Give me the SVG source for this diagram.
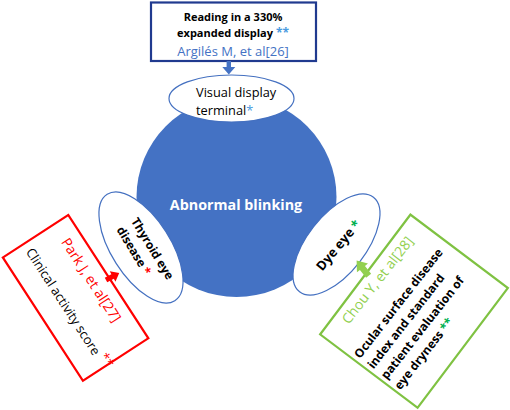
<svg xmlns="http://www.w3.org/2000/svg" width="510" height="410" viewBox="0 0 510 410">
<style>
.t{font-family:"Open Sans","Noto Sans","Liberation Sans",sans-serif;fill:#000}
.b{font-weight:bold}
.ell{fill:#fff;stroke:#4470C0;stroke-width:1.2}
.lb{fill:#4A9BE0}
.rd{fill:#FF0000}
.gr{fill:#92D050}
.dg{fill:#00B050}
</style>
<rect width="510" height="410" fill="#fff"/>

<g id="abnormal-blinking">
<circle cx="236.5" cy="197" r="100" fill="#4472C4"/>
<text class="t b" x="236" y="210" font-size="14.3" text-anchor="middle" style="fill:#fff">Abnormal blinking</text>
</g>

<g id="reading-box">
<rect x="151" y="2.5" width="165" height="58.5" fill="#fff" stroke="#203A8F" stroke-width="2.2"/>
<text class="t b" x="233" y="20.5" font-size="11" text-anchor="middle">Reading in a 330%</text>
<text class="t b" x="233" y="37" font-size="11" text-anchor="middle">expanded display <tspan class="lb" font-size="12">**</tspan></text>
<text class="t" x="233" y="55.5" font-size="13" text-anchor="middle" style="fill:#4472C4">Argilés M, et al[26]</text>
</g>

<g id="visual-display-terminal">
<ellipse class="ell" cx="231.5" cy="98.5" rx="62.5" ry="23.5"/>
<text class="t" x="196" y="96.5" font-size="12.8">Visual display</text>
<text class="t" x="196" y="114.5" font-size="12.8">terminal<tspan class="lb">*</tspan></text>
</g>

<g id="thyroid-eye-disease" transform="translate(141,247.5)">
<ellipse class="ell" rx="63" ry="29.5" transform="rotate(57.5)"/>
<g transform="rotate(58.6)">
<text class="t b" x="-28" y="-5" font-size="12">Thyroid eye</text>
<text class="t b" x="-28" y="12" font-size="12">disease <tspan class="rd">*</tspan></text>
</g>
</g>

<g id="dye-eye" transform="translate(336.5,244.5)">
<ellipse class="ell" rx="60" ry="29" transform="rotate(-52)"/>
<g transform="rotate(-50)">
<text class="t b" x="-30" y="6.5" font-size="13">Dye eye <tspan class="dg">*</tspan></text>
</g>
</g>

<g id="clinical-activity-box" transform="translate(75.6,297.9) rotate(57)">
<rect x="-73.5" y="-39" width="147" height="78" fill="#fff" stroke="#FF0000" stroke-width="2.2"/>
<text class="t rd" x="-55" y="-18" font-size="14">Park J, et al[27]</text>
<text class="t" x="-66" y="17" font-size="13">Clinical activity score <tspan class="rd" dy="-5">**</tspan></text>
</g>

<g id="osdi-box">
<rect x="-75" y="-61" width="150" height="122" fill="#fff" stroke="#7FC242" stroke-width="2.2" transform="translate(414,311.2) rotate(-53)"/>
<g transform="translate(414,311.2) rotate(-52)">
<text class="t gr" x="2" y="-43" font-size="14" text-anchor="middle">Chou Y, et al[28]</text>
<text class="t b" x="-71" y="-13" font-size="12">Ocular surface disease</text>
<text class="t b" x="-71" y="4" font-size="12">index and standard</text>
<text class="t b" x="-71" y="21" font-size="12">patient evaluation of</text>
<text class="t b" x="-71" y="38" font-size="12">eye dryness <tspan class="dg">**</tspan></text>
</g>
</g>

<g id="connectors">
<path d="M226.6,61 H231 V67 H235.3 L228.8,74.5 L222.3,67 H226.6 Z" fill="#4472C4"/>
<path d="M0,-2.6 H7.5 V-6 L15,0 L7.5,6 V2.6 H0 Z" fill="#FF0000" transform="translate(106,280) rotate(-28.3)"/>
<path d="M-1,-3.2 H9 V-7 L18.5,0 L9,7 V3.2 H-1 Z" fill="#92D050" transform="translate(368,275) rotate(-128)"/>
</g>
</svg>
